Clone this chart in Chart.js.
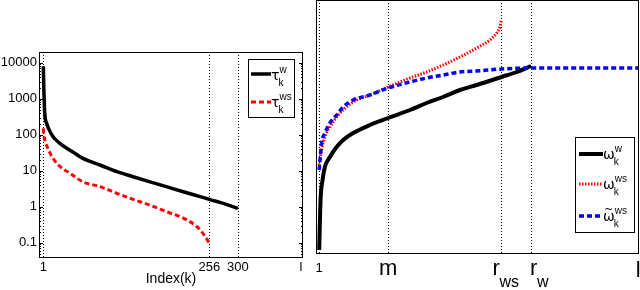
<!DOCTYPE html>
<html lang="en">
<head>
<meta charset="UTF-8">
<title>tau / omega</title>
<script src="https://cdn.jsdelivr.net/npm/chart.js"></script>
<style>
  body { margin: 0; background: #fff; }
  #wrap { position: relative; width: 640px; height: 290px; }
  #left { position: absolute; left: 0; top: 0; }
  #right { position: absolute; left: 310px; top: 0; }
</style>
</head>
<body>
<div id="wrap">
  <canvas id="left" width="310" height="290"></canvas>
  <canvas id="right" width="330" height="290"></canvas>
</div>
<script>
// left panel (log y)
var tauK = [1, 2, 3, 4, 6, 9, 16, 25, 37, 50, 62, 75, 88, 114, 139, 165, 190, 216, 242, 256, 280, 300];
var tauW = [8000, 1500, 450, 280, 210, 150, 88, 60, 42, 30, 22, 17.5, 14.4, 9.4, 6.8, 4.9, 3.6, 2.6, 1.9, 1.6, 1.2, 0.9];
var tauWsK = [1, 2, 4, 9, 16, 27, 42, 62, 88, 114, 139, 165, 190, 216, 237, 250, 256];
var tauWs = [150, 95, 65, 38, 22, 12.9, 8.5, 4.9, 3.6, 2.36, 1.6, 1.1, 0.73, 0.48, 0.28, 0.147, 0.096];
var leftTicksX = [1, 256, 300, 397];
var leftTickLabelsX = ['1', '256', '300', 'l'];
var leftTicksY = [0.1, 1, 10, 100, 1000, 10000];
var leftMarks = [1, 256, 300];

// right panel (no y labels, arbitrary units)
var omK = [1, 2.7, 5.2, 8.1, 14.4, 22.8, 31, 43.5, 64.4, 87.3, 114.4, 135.3, 156, 177, 198, 229, 248, 266];
var omW = [4, 54, 74, 87, 97, 107, 114, 121, 129, 136, 144, 151, 157, 164, 169, 177, 182, 188];
var omWsK = [1, 4, 8.1, 14.4, 22.8, 31, 43.5, 64.4, 87.3, 114.4, 135.3, 156, 177, 198, 214.5, 223, 227, 229];
var omWs = [89, 104, 117, 127, 137, 144, 152, 159, 167, 176, 182, 189, 197, 206, 214, 221, 227, 234];
var omTK = [1, 4, 8.1, 14.4, 22.8, 31, 43.5, 64.4, 87.3, 114.4, 135.3, 156, 177, 198, 229, 266, 400];
var omT = [84, 111, 121, 131, 139, 147, 154, 159, 166, 172, 176, 179, 182, 183, 185, 186, 186];
var rightTicksX = [1, 87.3, 229, 266, 400];
var rightTickLabels = ['1', 'm', 'r', 'r', 'l'];
var rightTickSubs = ['', '', 'ws', 'w', ''];
var rightMarks = [1, 87.3, 229, 266];

var FONT = '"Liberation Sans", Arial, sans-serif';

function pts(xs, ys) {
  return xs.map(function (x, i) { return { x: x, y: ys[i] }; });
}

function dotted(ctx, area, px) {
  ctx.save();
  ctx.strokeStyle = '#000';
  ctx.lineWidth = 1;
  ctx.setLineDash([1, 2]);
  ctx.beginPath();
  ctx.moveTo(Math.round(px) + 0.5, area.top);
  ctx.lineTo(Math.round(px) + 0.5, area.bottom);
  ctx.stroke();
  ctx.restore();
}

function frame(ctx, area) {
  ctx.save();
  ctx.strokeStyle = '#000';
  ctx.lineWidth = 1;
  ctx.strokeRect(Math.round(area.left) + 0.5, Math.round(area.top) + 0.5,
    Math.round(area.right - area.left) - 1, Math.round(area.bottom - area.top) - 1);
  ctx.restore();
}

function legendLine(ctx, x1, x2, y, color, width, dash) {
  ctx.save();
  ctx.strokeStyle = color;
  ctx.lineWidth = width;
  ctx.setLineDash(dash);
  ctx.beginPath();
  ctx.moveTo(x1, y);
  ctx.lineTo(x2, y);
  ctx.stroke();
  ctx.restore();
}

function symbol(ctx, x, y, ch, sup, tilde) {
  ctx.save();
  ctx.fillStyle = '#000';
  ctx.textAlign = 'left';
  ctx.textBaseline = 'alphabetic';
  ctx.font = '14px "DejaVu Sans"';
  ctx.fillText(ch, x, y);
  var w = ctx.measureText(ch).width;
  if (tilde) {
    ctx.font = '11px "DejaVu Sans"';
    ctx.fillText('~', x + 1, y - 8);
  }
  ctx.font = '10px ' + FONT;
  ctx.fillText(sup, x + w, y - 7);
  ctx.fillText('k', x + w - 1, y + 6);
  ctx.restore();
}

var leftDecor = {
  id: 'leftDecor',
  beforeDatasetsDraw: function (chart) {
    var ctx = chart.ctx, area = chart.chartArea, xs = chart.scales.x;
    leftMarks.forEach(function (v) { dotted(ctx, area, xs.getPixelForValue(v)); });
  },
  afterDraw: function (chart) {
    var ctx = chart.ctx, area = chart.chartArea, ys = chart.scales.y;
    frame(ctx, area);
    // log minor ticks on both sides
    ctx.save();
    ctx.strokeStyle = '#000';
    ctx.lineWidth = 1;
    ctx.beginPath();
    for (var d = 0.01; d <= 10000; d *= 10) {
      for (var m = 1; m <= 9; m++) {
        var v = d * m;
        if (v < ys.min || v > ys.max) continue;
        var py = Math.round(ys.getPixelForValue(v)) + 0.5;
        var len = m === 1 ? 4 : 2;
        ctx.moveTo(area.left, py); ctx.lineTo(area.left + len, py);
        ctx.moveTo(area.right, py); ctx.lineTo(area.right - len, py);
      }
    }
    ctx.stroke();
    // legend box
    ctx.fillStyle = '#fff';
    ctx.fillRect(248, 59, 46, 58);
    ctx.strokeRect(248.5, 59.5, 46, 58);
    ctx.restore();
    legendLine(ctx, 251, 271, 74, '#000', 3.5, []);
    symbol(ctx, 271, 80, '\u03c4', 'w', false);
    legendLine(ctx, 251, 271, 102, '#ff0000', 3, [5, 3]);
    symbol(ctx, 271, 107, '\u03c4', 'ws', false);
  }
};

var rightDecor = {
  id: 'rightDecor',
  beforeDatasetsDraw: function (chart) {
    var ctx = chart.ctx, area = chart.chartArea, xs = chart.scales.x;
    rightMarks.forEach(function (v) { dotted(ctx, area, xs.getPixelForValue(v)); });
  },
  afterDraw: function (chart) {
    var ctx = chart.ctx, area = chart.chartArea, xs = chart.scales.x;
    frame(ctx, area);
    // tick labels with subscripts
    ctx.save();
    ctx.fillStyle = '#000';
    ctx.textBaseline = 'alphabetic';
    rightTicksX.forEach(function (v, i) {
      var px = xs.getPixelForValue(v);
      var lab = rightTickLabels[i], sub = rightTickSubs[i];
      if (i === 0) {
        ctx.font = '13px ' + FONT;
        ctx.textAlign = 'center';
        ctx.fillText(lab, px, 272);
      } else if (!sub) {
        ctx.font = '22px ' + FONT;
        ctx.textAlign = 'center';
        ctx.fillText(lab, px, lab === 'l' ? 277 : 275);
      } else {
        var shift = sub === 'ws' ? -9 : -1;
        ctx.font = '22px ' + FONT;
        ctx.textAlign = 'left';
        ctx.fillText(lab, px + shift, 275);
        ctx.font = '16px ' + FONT;
        ctx.fillText(sub, px + shift + 7, 287);
      }
    });
    // legend box
    ctx.fillStyle = '#fff';
    ctx.fillRect(265, 137, 59, 95);
    ctx.strokeStyle = '#000';
    ctx.lineWidth = 1;
    ctx.strokeRect(265.5, 137.5, 59, 95);
    ctx.restore();
    legendLine(ctx, 269, 293, 154, '#000', 4, []);
    symbol(ctx, 293, 159, '\u03c9', 'w', false);
    legendLine(ctx, 269, 293, 184, '#ff0000', 3, [1.5, 1.5]);
    symbol(ctx, 293, 189, '\u03c9', 'ws', false);
    legendLine(ctx, 269, 293, 216, '#0000ff', 3.5, [5, 3]);
    symbol(ctx, 293, 221, '\u03c9', 'ws', true);
  }
};

new Chart(document.getElementById('left'), {
  type: 'line',
  data: {
    datasets: [
      { label: 'tau w', data: pts(tauK, tauW), borderColor: '#000', borderWidth: 3.5,
        pointRadius: 0, cubicInterpolationMode: 'monotone' },
      { label: 'tau ws', data: pts(tauWsK, tauWs), borderColor: '#ff0000', borderWidth: 3,
        borderDash: [5, 3], pointRadius: 0, cubicInterpolationMode: 'monotone' }
    ]
  },
  options: {
    responsive: false,
    animation: false,
    layout: { padding: { left: 0, top: 52, right: 7, bottom: 0 } },
    plugins: { legend: { display: false }, tooltip: { enabled: false } },
    scales: {
      x: {
        type: 'linear', min: -5.6, max: 400,
        grid: { display: false, drawTicks: false }, border: { display: false },
        afterBuildTicks: function (s) { s.ticks = leftTicksX.map(function (v) { return { value: v }; }); },
        afterFit: function (s) { s.height = 32; },
        ticks: {
          autoSkip: false, maxRotation: 0, padding: 2, color: '#000',
          font: { family: FONT, size: 13 },
          callback: function (v, i) { return leftTickLabelsX[i]; }
        },
        title: { display: true, text: 'Index(k)', color: '#000',
          font: { family: FONT, size: 14 }, padding: { top: 0, bottom: 2 } }
      },
      y: {
        type: 'logarithmic', min: 0.0376, max: 19800,
        grid: { display: false, drawTicks: false }, border: { display: false },
        afterBuildTicks: function (s) { s.ticks = leftTicksY.map(function (v) { return { value: v }; }); },
        afterFit: function (s) { s.width = 39; },
        ticks: {
          padding: 2, color: '#000', font: { family: FONT, size: 13 },
          callback: function (v) { return String(v); }
        }
      }
    }
  },
  plugins: [leftDecor]
});

new Chart(document.getElementById('right'), {
  type: 'line',
  data: {
    datasets: [
      { label: 'omega w', data: pts(omK, omW), borderColor: '#000', borderWidth: 4,
        pointRadius: 0, cubicInterpolationMode: 'monotone', order: 3 },
      { label: 'omega ws', data: pts(omWsK, omWs), borderColor: '#ff0000', borderWidth: 3,
        borderDash: [1.5, 1.5], pointRadius: 0, cubicInterpolationMode: 'monotone', order: 2 },
      { label: 'omega tilde ws', data: pts(omTK, omT), borderColor: '#0000ff', borderWidth: 3.5,
        borderDash: [5, 3], pointRadius: 0, cubicInterpolationMode: 'monotone', order: 1 }
    ]
  },
  options: {
    responsive: false,
    animation: false,
    layout: { padding: { left: 6, top: 0, right: 1, bottom: 36 } },
    plugins: { legend: { display: false }, tooltip: { enabled: false } },
    scales: {
      x: { type: 'linear', min: -3, max: 401, display: false },
      y: { type: 'linear', min: 0, max: 254, display: false }
    }
  },
  plugins: [rightDecor]
});
</script>
</body>
</html>
